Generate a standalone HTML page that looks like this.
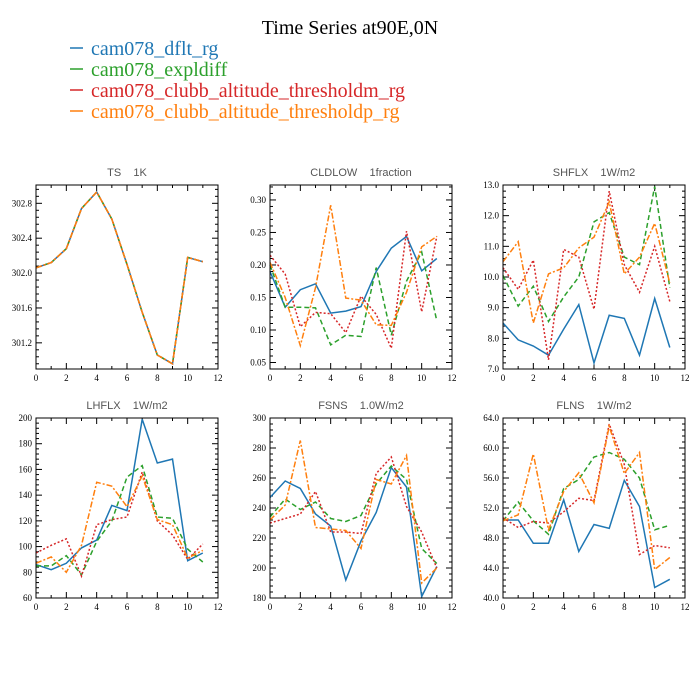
<!DOCTYPE html>
<html><head><meta charset="utf-8"><style>
body{margin:0;background:#fff;width:700px;height:700px;overflow:hidden}
svg{display:block}
.pt{white-space:pre}
</style></head><body>
<svg id="chart" width="700" height="700" xmlns="http://www.w3.org/2000/svg">
<text x="350" y="34" text-anchor="middle" font-family="Liberation Serif, serif" font-size="20" fill="#000">Time Series at90E,0N</text>
<g>
<g><line x1="70" y1="48" x2="83" y2="48" stroke="#1f77b4" stroke-width="1.5"/><text x="91" y="55" font-family="Liberation Serif, serif" font-size="20" fill="#1f77b4">cam078_dflt_rg</text></g>
<g><line x1="70" y1="69" x2="83" y2="69" stroke="#2ca02c" stroke-width="1.5"/><text x="91" y="76" font-family="Liberation Serif, serif" font-size="20" fill="#2ca02c">cam078_expldiff</text></g>
<g><line x1="70" y1="90" x2="83" y2="90" stroke="#d62728" stroke-width="1.5"/><text x="91" y="97" font-family="Liberation Serif, serif" font-size="20" fill="#d62728">cam078_clubb_altitude_thresholdm_rg</text></g>
<g><line x1="70" y1="111" x2="83" y2="111" stroke="#ff7f0e" stroke-width="1.5"/><text x="91" y="118" font-family="Liberation Serif, serif" font-size="20" fill="#ff7f0e">cam078_clubb_altitude_thresholdp_rg</text></g>
</g>
</svg>
<script>
const months=[0,1,2,3,4,5,6,7,8,9,10,11];
const xTicks=[0,2,4,6,8,10,12];
const panelTitles=["TS    1K","CLDLOW    1fraction","SHFLX    1W/m2","LHFLX    1W/m2","FSNS    1.0W/m2","FLNS    1W/m2"];
const yRanges=[[300.9,303.01],[0.04,0.323],[7,13],[60,200],[180,300],[40,64]];
const yTickVals=[[301.2,301.6,302.0,302.4,302.8],[0.05,0.10,0.15,0.20,0.25,0.30],[7,8,9,10,11,12,13],[60,80,100,120,140,160,180,200],[180,200,220,240,260,280,300],[40,44,48,52,56,60,64]];
const yTickLabels=[["301.2","301.6","302.0","302.4","302.8"],["0.05","0.10","0.15","0.20","0.25","0.30"],["7.0","8.0","9.0","10.0","11.0","12.0","13.0"],["60","80","100","120","140","160","180","200"],["180","200","220","240","260","280","300"],["40.0","44.0","48.0","52.0","56.0","60.0","64.0"]];
const seriesNames=["dflt","expldiff","thresholdm","thresholdp"];
const seriesColors=["#1f77b4","#2ca02c","#d62728","#ff7f0e"];
const seriesDash=["","5,3","2,2","6,2,2,2"];
const tsA=[302.06,302.12,302.28,302.74,302.93,302.62,302.1,301.55,301.06,300.96,302.18,302.13];
const tsB=[302.06,302.12,302.28,302.74,302.93,302.62,302.1,301.55,301.06,300.96,302.18,302.13];
const tsC=[302.06,302.12,302.28,302.74,302.93,302.62,302.1,301.55,301.06,300.96,302.18,302.13];
const tsD=[302.06,302.12,302.28,302.74,302.93,302.62,302.1,301.55,301.06,300.96,302.18,302.13];
const cldA=[0.19,0.135,0.162,0.171,0.126,0.129,0.136,0.19,0.226,0.244,0.191,0.21];
const cldB=[0.2,0.135,0.135,0.134,0.077,0.092,0.09,0.196,0.092,0.175,0.22,0.114];
const cldC=[0.215,0.186,0.105,0.127,0.125,0.096,0.152,0.124,0.072,0.252,0.128,0.244];
const cldD=[0.204,0.15,0.076,0.165,0.292,0.149,0.146,0.108,0.107,0.158,0.228,0.244];
const shA=[8.5,7.95,7.75,7.45,8.3,9.1,7.2,8.75,8.65,7.45,9.3,7.7];
const shB=[10.05,9.05,9.7,8.55,9.35,10.0,11.8,12.1,10.65,10.4,12.95,9.65];
const shC=[10.3,9.6,10.55,7.3,10.9,10.65,8.95,12.8,10.4,9.5,11.0,9.2];
const shD=[10.5,11.15,8.5,10.1,10.3,10.95,11.3,12.45,10.1,10.65,11.75,9.8];
const lhA=[86,82,87,99,105,132,128,199,165,168,89,95];
const lhB=[85,85,93,78,104,120,154,163,123,122,98,88];
const lhC=[95,101,106,77,117,121,123,158,120,109,90,102];
const lhD=[87,92,80,101,150,147,131,155,121,117,91,97];
const fsA=[247,258,253,236,228,192,218,237,267,254,181,201];
const fsB=[234,246,239,244,233,231,235,256,268,259,213,203];
const fsC=[230,233,236,251,224,224,223,263,274,241,224,200];
const fsD=[232,242,285,227,226,225,213,259,256,275,190,200];
const flA=[50.4,50.4,47.3,47.3,53.1,46.2,49.8,49.3,55.7,52.2,41.4,42.5];
const flB=[50.3,52.8,50.3,48.5,54.6,55.8,58.8,59.4,58.5,56.0,49.1,49.7];
const flC=[50.7,49.4,50.2,50.0,51.5,53.3,53.0,63.2,57.8,45.8,47.0,46.7];
const flD=[50.3,51.1,59.2,49.1,54.2,56.7,52.7,62.9,56.6,59.4,43.8,45.4];
const panelData=[[tsA,tsB,tsC,tsD],[cldA,cldB,cldC,cldD],[shA,shB,shC,shD],[lhA,lhB,lhC,lhD],[fsA,fsB,fsC,fsD],[flA,flB,flC,flD]];
const panelNames=["ts","cldlow","shflx","lhflx","fsns","flns"];

const NS="http://www.w3.org/2000/svg";
const svg=document.getElementById('chart');
function mk(tag,attrs,parent){const e=document.createElementNS(NS,tag);for(const k in attrs)e.setAttribute(k,attrs[k]);parent.appendChild(e);return e;}
const X0=[36,270,503],Y0=[185,418],W=182,H=[184,180];
for(let p=0;p<6;p++){
  const col=p%3,row=Math.floor(p/3);
  const x0=X0[col],y0=Y0[row],h=H[row];
  const [ymin,ymax]=yRanges[p];
  const sx=v=>x0+v/12*W;
  const sy=v=>y0+h-(v-ymin)/(ymax-ymin)*h;
  const g=mk('g',{},svg);
  
  
  const t=mk('text',{x:x0+W/2,y:y0-9,'text-anchor':'middle','font-family':'Liberation Sans, sans-serif','font-size':'11','fill':'#555','class':'pt'},g);
  t.textContent=panelTitles[p];
  
  
  const tg=mk('g',{stroke:'#000','stroke-width':'1'},g);
  
  
  for(let m=0;m<=12;m++){const L=m%2==0?6:3;const xx=sx(m);
    mk('line',{x1:xx,y1:y0+h,x2:xx,y2:y0+h-L},tg);mk('line',{x1:xx,y1:y0,x2:xx,y2:y0+L},tg);}
  xTicks.forEach(v=>{const tx=mk('text',{x:sx(v),y:y0+h+12,'text-anchor':'middle','font-family':'Liberation Serif, serif','font-size':'9',fill:'#000'},g);tx.textContent=v;
    
    });
  const yt=yTickVals[p];const step=(yt[1]-yt[0])/5;
  for(let k=-Math.floor((yt[0]-ymin)/step+1e-9);yt[0]+k*step<=ymax+1e-9;k++){
    const v=yt[0]+k*step;const yy=sy(v);const L=(Math.abs(k)%5==0)?6:3;
    mk('line',{x1:x0,y1:yy,x2:x0+L,y2:yy},tg);mk('line',{x1:x0+W,y1:yy,x2:x0+W-L,y2:yy},tg);}
  yt.forEach((v,i)=>{const ty=mk('text',{x:x0-4,y:sy(v)+3,'text-anchor':'end','font-family':'Liberation Serif, serif','font-size':'9',fill:'#000'},g);ty.textContent=yTickLabels[p][i];
    
    });
  panelData[p].forEach((arr,s)=>{
    const d=arr.map((v,i)=>(i?'L':'M')+sx(months[i]).toFixed(1)+','+sy(v).toFixed(1)).join('');
    const pa=mk('path',{d:d,fill:'none',stroke:seriesColors[s],'stroke-width':'1.5'},g);
    if(seriesDash[s])pa.setAttribute('stroke-dasharray',seriesDash[s]);
    
    
  });
  const fr=mk('rect',{x:x0,y:y0,width:W,height:h,fill:'none',stroke:'#000','stroke-width':'1'},g);
  
  
}
</script>
</body></html>
